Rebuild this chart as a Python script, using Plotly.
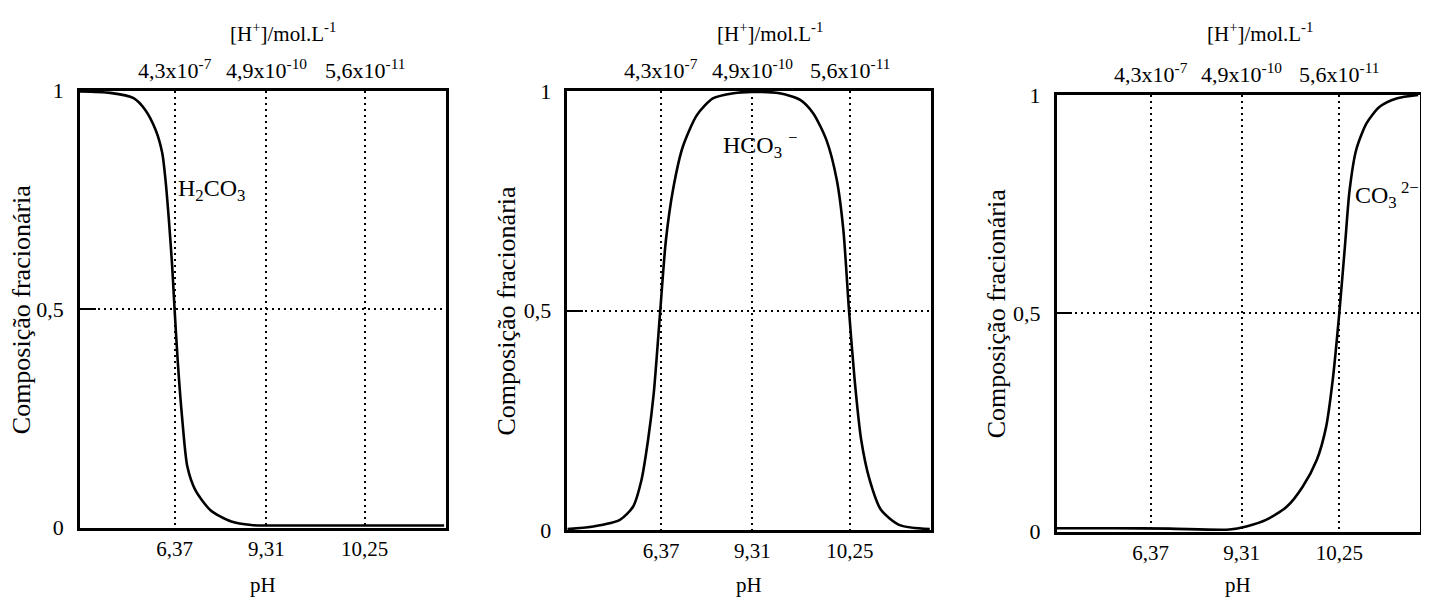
import plotly.graph_objects as go

# ---- data (x is the schematic pH position, ticks equally spaced) ----
ph_tick_pos = [1.0, 1.97, 3.01]
ph_tick_text = ["6,37", "9,31", "10,25"]
h_tick_text = ["4,3x10<sup>-7</sup>", "4,9x10<sup>-10</sup>", "5,6x10<sup>-11</sup>"]

h2co3_x = [0.0, 0.32, 0.567, 0.69, 0.80, 0.87, 0.904, 0.94, 0.975, 1.0, 1.035, 1.082, 1.135, 1.22, 1.38, 1.60, 1.81, 2.3, 3.0, 3.85]
h2co3_y = [0.998, 0.995, 0.983, 0.956, 0.91, 0.857, 0.796, 0.704, 0.597, 0.5, 0.376, 0.246, 0.14, 0.086, 0.04, 0.014, 0.006, 0.005, 0.005, 0.005]

hco3_x = [0.0, 0.277, 0.56, 0.70, 0.79, 0.86, 0.92, 0.99, 1.05, 1.13, 1.23, 1.38, 1.55, 1.77, 1.96, 2.26, 2.48, 2.62, 2.76, 2.87, 2.94, 3.0, 3.06, 3.13, 3.22, 3.34, 3.54, 3.86]
hco3_y = [0.002, 0.008, 0.023, 0.053, 0.114, 0.205, 0.31, 0.50, 0.66, 0.78, 0.873, 0.945, 0.983, 0.995, 0.998, 0.995, 0.98, 0.949, 0.888, 0.797, 0.683, 0.50, 0.342, 0.205, 0.114, 0.046, 0.011, 0.002]

co3_x = [0.0, 0.6, 1.2, 1.84, 2.02, 2.23, 2.45, 2.62, 2.77, 2.87, 2.94, 3.01, 3.07, 3.12, 3.19, 3.30, 3.44, 3.62, 3.85]
co3_y = [0.008, 0.008, 0.007, 0.005, 0.012, 0.027, 0.057, 0.103, 0.164, 0.24, 0.347, 0.50, 0.653, 0.782, 0.874, 0.935, 0.973, 0.992, 1.0]

species_labels = ["H<sub>2</sub>CO<sub>3</sub>", "HCO<sub>3</sub> <sup>−</sup>", "CO<sub>3</sub><sup> 2−</sup>"]
label_pos = [(1.01, 0.773), (1.64, 0.877), (3.155, 0.77)]

OFF = 8  # default page body margin
W, H = 1429 - OFF, 599 - OFF
FONT = "Liberation Serif, Times New Roman, serif"
FS = 21

# panel boxes in screen pixels: (left, right, top, bottom)
boxes = [(80, 446, 90.7, 527.7), (567.3, 930.7, 91, 530), (1056.7, 1420, 95, 531.7)]
ytitle_x = [21, 506, 996]
top_title_x = [283, 770, 1260]


def px(x):
    return (x - OFF) / W


def py(y):
    return (H - (y - OFF)) / H


fig = go.Figure()
series = [(h2co3_x, h2co3_y), (hco3_x, hco3_y), (co3_x, co3_y)]
for i, (xs, ys) in enumerate(series):
    sx = "" if i == 0 else str(i + 1)
    fig.add_trace(go.Scatter(x=xs, y=ys, mode="lines", line=dict(color="black", width=2.6, shape="spline", smoothing=0.7),
                             xaxis="x" + sx, yaxis="y" + sx, showlegend=False, hoverinfo="skip"))

layout = dict(width=W, height=H, margin=dict(l=0, r=0, t=0, b=0), paper_bgcolor="white", plot_bgcolor="white",
              font=dict(family=FONT, size=FS, color="black"), showlegend=False)
annotations = []
for i, (l, r, t, b) in enumerate(boxes):
    sx = "" if i == 0 else str(i + 1)
    layout["xaxis" + sx] = dict(domain=[px(l), px(r)], anchor="y" + sx, range=[0, 3.87], tickvals=ph_tick_pos,
                                ticktext=ph_tick_text, showgrid=True, gridcolor="black", gridwidth=2, griddash="2px,4px",
                                showline=True, linecolor="black", linewidth=2.5, mirror=True, ticks="", zeroline=False,
                                automargin=False, fixedrange=True, tickfont=dict(size=FS))
    layout["yaxis" + sx] = dict(domain=[py(b), py(t)], anchor="x" + sx, range=[0, 1], tickvals=[0, 0.5, 1],
                                ticktext=["0", "0,5", "1"], showgrid=True, gridcolor="black", gridwidth=2, griddash="2px,4px",
                                showline=True, linecolor="black", linewidth=2.5, mirror=True, ticks="inside", ticklen=16,
                                tickwidth=1.5, tickcolor="black", zeroline=False, automargin=False, fixedrange=True,
                                ticklabelstandoff=9, tickfont=dict(size=FS + 1))
    # top concentration labels
    for pos, txt in zip(ph_tick_pos, h_tick_text):
        annotations.append(dict(x=pos, y=1, xref="x" + sx, yref="y" + sx + " domain", text=txt, showarrow=False,
                                xanchor="center", yanchor="bottom", yshift=6, font=dict(size=FS + 1)))
    annotations.append(dict(x=px(top_title_x[i]), y=py(32), xref="paper", yref="paper",
                            text="[H<sup>+</sup>]/mol.L<sup>-1</sup>", showarrow=False, xanchor="center", yanchor="middle",
                            font=dict(size=FS)))
    annotations.append(dict(x=px((l + r) / 2), y=py(585), xref="paper", yref="paper", text="pH",
                            showarrow=False, xanchor="center", yanchor="middle", font=dict(size=FS)))
    annotations.append(dict(x=px(ytitle_x[i]), y=py((t + b) / 2), xref="paper", yref="paper",
                            text="Composição fracionária", textangle=-90, showarrow=False, xanchor="center",
                            yanchor="middle", font=dict(size=26)))
    lx, ly = label_pos[i]
    annotations.append(dict(x=lx, y=ly, xref="x" + sx, yref="y" + sx, text=species_labels[i], showarrow=False,
                            xanchor="left", yanchor="middle", font=dict(size=FS + 3)))
layout["annotations"] = annotations
fig.update_layout(**layout)
fig.write_html("out.html")
